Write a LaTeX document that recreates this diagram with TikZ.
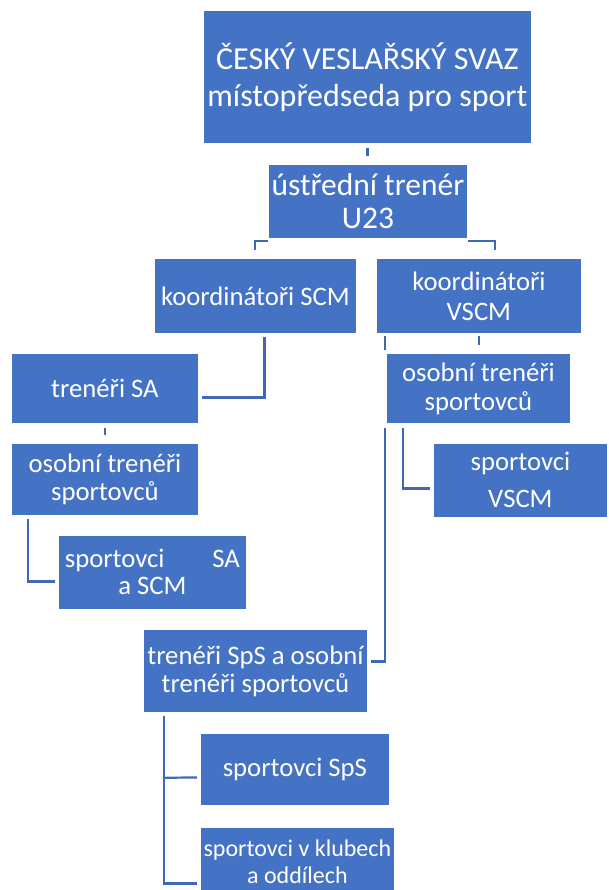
\documentclass[tikz,border=0pt]{standalone}
\usepackage{fontspec}
\setmainfont{Carlito}
\usetikzlibrary{calc}
\definecolor{blu}{HTML}{4472C4}
\definecolor{lin}{HTML}{3F68B6}
\begin{document}
\begin{tikzpicture}[x=1pt,y=-1pt,
  box/.style={draw=white, line width=0.8pt, fill=blu, text=white, inner sep=0pt, anchor=north west, align=center},
  conn/.style={draw=lin, line width=2.2pt},
  big/.style={font=\fontsize{32}{37}\selectfont},
  mid/.style={font=\fontsize{31.5}{33}\selectfont},
  sml/.style={font=\fontsize{26.7}{29}\selectfont}]
\useasboundingbox (0,0) rectangle (608,890);
% nodes
\node[box, big, minimum width=328, minimum height=133] (top) at (203,10) {ČESKÝ VESLAŘSKÝ SVAZ\\místopředseda pro sport};
\node[box, mid, minimum width=199, minimum height=74] (ust) at (268,164) {ústřední trenér\\U23};
\node[box, sml, minimum width=202, minimum height=75] (ks) at (154,258) {koordinátoři SCM};
\node[box, font=\fontsize{26.7}{30}\selectfont, minimum width=205, minimum height=75] (kv) at (376,258) {koordinátoři\\VSCM};
\node[box, sml, minimum width=187, minimum height=70] (tsa) at (11,353) {trenéři SA};
\node[box, font=\fontsize{26.7}{28}\selectfont, minimum width=187, minimum height=72] (osl) at (11,443) {osobní trenéři\\sportovců};
\node[box, font=\fontsize{26.7}{27}\selectfont, minimum width=188, minimum height=74] (ssa) at (58,535) {\makebox[175pt]{sportovci\hfill SA}\\a SCM};
\node[box, font=\fontsize{26.7}{29}\selectfont, minimum width=184, minimum height=70] (osr) at (386,353) {osobní trenéři\\sportovců};
\node[box, font=\fontsize{26.7}{37}\selectfont, minimum width=174, minimum height=74] (svs) at (433,443) {sportovci\\VSCM};
\node[box, font=\fontsize{26.7}{28}\selectfont, minimum width=224, minimum height=83] (tsp) at (143,629) {trenéři SpS a osobní\\trenéři sportovců};
\node[box, sml, minimum width=189, minimum height=72] (sps) at (200,733) {sportovci SpS};
\node[box, font=\fontsize{24}{27}\selectfont, minimum width=194, minimum height=69] (skl) at (200,827) {sportovci v klubech\\a oddílech};
% connectors
\draw[conn] ($(top.south)+(0,4)$) -- ($(top.south)+(0,12)$);
\draw[conn] ($(ust.south west)+(0,2)$) -- ($(ust.south west)+(-13,2)$) -- ($(ust.south west)+(-13,11)$);
\draw[conn] ($(ust.south east)+(0,2)$) -- ($(ust.south east)+(27,2)$) -- ($(ust.south east)+(27,11)$);
\draw[conn] ($(ks.south)+(9,3)$) |- ($(tsa.east)+(3,9)$);
\draw[conn] ($(tsa.south)+(0,4)$) -- ($(tsa.south)+(0,11)$);
\draw[conn] ($(osl.south west)+(17,3)$) |- ($(ssa.west)+(-3,9)$);
\draw[conn] ($(kv.south west)+(9,2)$) -- ($(kv.south west)+(9,16)$);
\draw[conn] ($(kv.south)+(0,2)$) -- ($(kv.south)+(0,11)$);
\draw[conn] ($(osr.south west)+(-1,4)$) |- ($(tsp.east)+(3,-9.5)$);
\draw[conn] ($(osr.south west)+(17,4)$) |- ($(svs.west)+(-3,8)$);
\draw[conn] ($(tsp.south west)+(21,3)$) |- ($(skl.west)+(-3,21.5)$);
\draw[conn] ($(tsp.south west)+(21,65)$) -- ($(sps.west)+(-3,8)$);
\end{tikzpicture}
\end{document}
